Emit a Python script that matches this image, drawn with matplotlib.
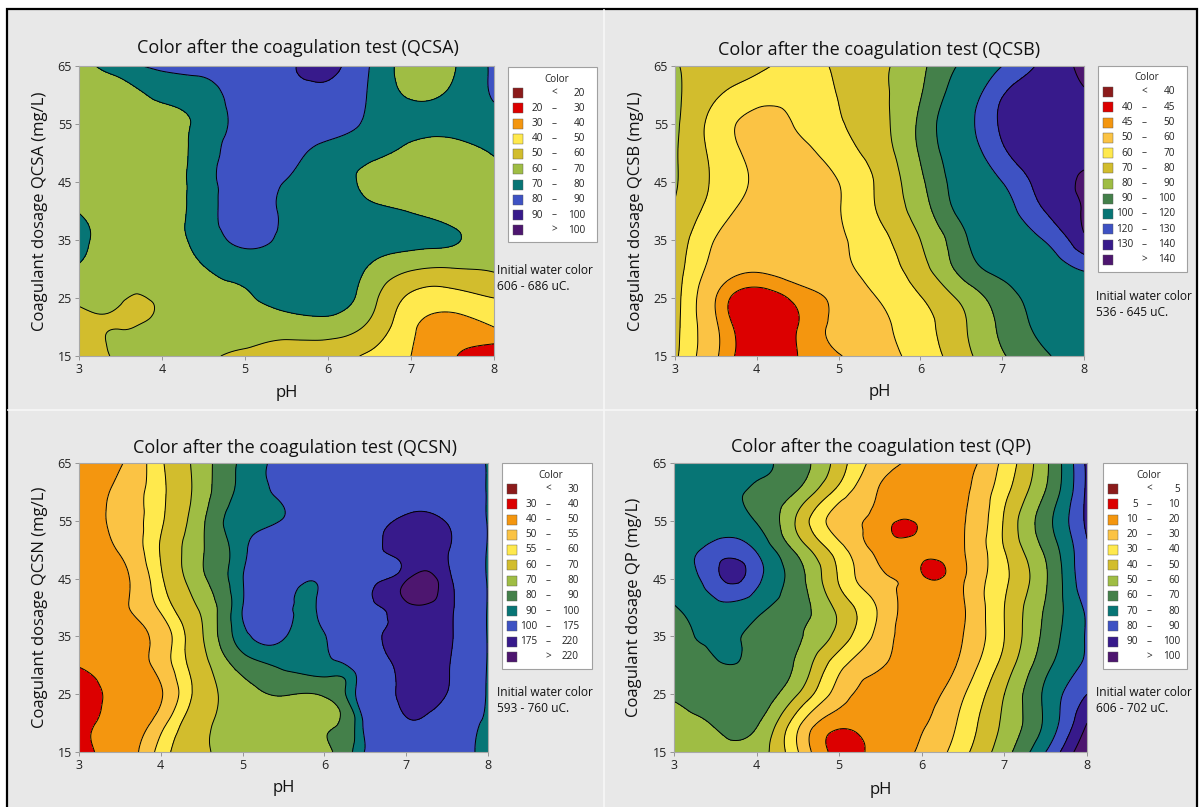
import numpy as np
import matplotlib
matplotlib.use('Agg')
import matplotlib.pyplot as plt
from matplotlib.tri import Triangulation, UniformTriRefiner
from matplotlib.patches import Rectangle

plt.rcParams['font.family'] = ['Open Sans', 'DejaVu Sans']

# grid of the response surfaces
ph_values = [3.0, 3.5, 4.0, 4.5, 5.0, 5.5, 6.0, 6.5, 7.0, 7.5, 8.0]
dose_values = [15, 20, 25, 30, 35, 40, 45, 50, 55, 60, 65]

# rows = dosage 15..65, columns = pH 3..8
qcsa_grid = [
    [55, 61, 64, 62, 58, 57, 55, 48, 40, 31, 21],
    [56, 59.5, 65, 66, 65, 64, 65, 58, 42, 35, 40],
    [62.5, 61.5, 63, 67, 69, 74, 76, 64, 48, 46, 50],
    [69, 63, 65, 69.5, 74, 76, 76, 69, 61, 59.5, 61],
    [73, 64, 66, 74, 82, 78, 76, 75, 73, 71, 64],
    [69.5, 64, 66, 75, 85, 78, 76, 73, 69.5, 66, 64],
    [64, 63, 66, 75, 86, 79.5, 76, 67, 64, 63, 62],
    [63, 63, 65.5, 74.5, 86, 84, 77, 73, 67, 65, 71],
    [63, 64, 66.5, 73, 84, 87, 85, 78, 73, 74, 76],
    [63, 65, 72, 75, 86, 88, 88.5, 79, 69, 72, 81],
    [66, 76, 82, 85, 88, 89, 92, 80, 66, 69, 82],
]
qcsa_extra_ph = [3.65, 3.8]
qcsa_extra_dose = [23, 24.2]
qcsa_extra_value = [57, 58.5]

qcsb_grid = [
    [72, 51, 42, 45, 49.5, 56, 64, 76, 89, 98, 110],
    [73, 51, 41.5, 45, 52, 58, 66, 78, 92, 103, 112],
    [74, 50, 42, 46.5, 52, 60.5, 69.5, 82, 95, 106, 116],
    [75, 56, 51, 54, 57, 65, 76, 93, 104, 112, 121],
    [77, 59.5, 54, 55, 58.5, 67, 80, 97, 112, 120, 138],
    [79, 65, 56, 55, 59.5, 71, 85, 103, 115, 129.5, 140.5],
    [81, 68, 58.5, 55, 60, 72, 88, 106, 120, 134, 141],
    [81, 67, 57, 56.5, 65, 75, 91, 110, 128, 137, 138],
    [82, 66, 57, 61, 69, 77, 92, 113, 131.5, 138, 137],
    [82, 71, 64, 62, 70.5, 78, 89.5, 109, 129.5, 136, 139],
    [81, 75, 73, 66, 72, 78, 88, 102, 120, 132, 143],
]
qcsb_extra_ph = []
qcsb_extra_dose = []
qcsb_extra_value = []

qcsn_grid = [
    [37, 45, 57, 68, 74, 76, 78, 101, 130, 120, 92],
    [37, 44, 53, 67, 74, 76, 78.5, 104, 170, 140, 93],
    [34, 43, 49.5, 64, 76, 80.5, 81, 115, 190, 174, 95],
    [40.5, 46, 52, 66, 84, 92, 96, 120, 198, 180, 97],
    [44, 48, 52, 69, 96, 101, 99, 150, 200, 185, 97],
    [45, 49, 56, 72, 100, 110, 115, 165, 206, 188, 97],
    [44, 48.5, 59, 78, 99.5, 115, 110, 168, 212, 190, 97],
    [44, 50.5, 60.5, 79, 97, 120, 140, 160, 198, 180, 97],
    [44, 52, 59, 78, 96, 101, 130, 150, 185, 172, 97],
    [44, 51.5, 58.5, 75, 93, 104, 125, 140, 150, 145, 97],
    [44, 49.5, 59, 75, 92, 106, 125, 135, 140, 135, 97],
]
qcsn_extra_ph = [7.05, 5.85, 5.85, 5.85]
qcsn_extra_dose = [44.5, 36, 39.5, 43]
qcsn_extra_value = [234, 95, 95, 96]

qp_grid = [
    [55, 56.5, 55, 30.5, 7, 14, 21.5, 37, 56, 80, 110],
    [57, 61, 61, 33, 13, 16, 19, 33, 52, 72, 100],
    [61, 65, 66, 50, 25, 15, 15, 29, 50, 72, 90],
    [65, 68, 67, 58, 33, 21, 13, 23, 44, 67, 82],
    [67, 72, 67, 61, 46, 26, 13, 20, 40, 63, 81],
    [69.5, 77, 73, 64, 47, 28, 12, 19, 40, 61, 82],
    [73, 87, 83, 64, 39, 22, 12, 19, 38, 59, 89],
    [74, 84, 79, 57, 34, 17, 13, 19.5, 40, 62, 89],
    [73, 74, 69.5, 48, 25, 15, 13, 19.5, 41, 66, 92],
    [73, 73, 69, 59, 36, 19, 14, 18, 37, 60.5, 92],
    [74, 74, 71, 65, 45, 25, 17, 16, 33, 58, 92],
]
qp_extra_ph = [3.7, 5.82, 6.1, 3.62, 4.97]
qp_extra_dose = [45.5, 54, 46.5, 31, 18]
qp_extra_value = [93, 8, 7.5, 71, 8]

qcsa_levels = [20, 30, 40, 50, 60, 70, 80, 90, 100]
qcsb_levels = [40, 45, 50, 60, 70, 80, 90, 100, 120, 130, 140]
qcsn_levels = [30, 40, 50, 55, 60, 70, 80, 90, 100, 175, 220]
qp_levels = [5, 10, 20, 30, 40, 50, 60, 70, 80, 90, 100]

palette = {
    'darkred': '#8b1b1b', 'red': '#dc0000', 'orange': '#f4960f',
    'lorange': '#fbc344', 'yellow': '#ffe94d', 'olive': '#d2bd2d',
    'ygreen': '#9fbd44', 'dgreen': '#44804a', 'teal': '#077575',
    'blue': '#3e52c3', 'indigo': '#371a8b', 'purple': '#4d166f',
}
short_names = ['darkred', 'red', 'orange', 'yellow', 'olive', 'ygreen',
               'teal', 'blue', 'indigo', 'purple']
full_names = ['darkred', 'red', 'orange', 'lorange', 'yellow', 'olive',
              'ygreen', 'dgreen', 'teal', 'blue', 'indigo', 'purple']

titles = ['Color after the coagulation test (QCSA)',
          'Color after the coagulation test (QCSB)',
          'Color after the coagulation test (QCSN)',
          'Color after the coagulation test (QP)']
ylabels = ['Coagulant dosage QCSA (mg/L)', 'Coagulant dosage QCSB (mg/L)',
           'Coagulant dosage QCSN (mg/L)', 'Coagulant dosage QP (mg/L)']
initial_colors = ['606 - 686 uC.', '536 - 645 uC.', '593 - 760 uC.', '606 - 702 uC.']

W, H = 1200, 807


def make_field(grid, ex_ph, ex_dose, ex_val):
    gx, gy = np.meshgrid(ph_values, dose_values)
    x = np.concatenate([gx.ravel(), np.array(ex_ph, float)])
    y = np.concatenate([gy.ravel(), np.array(ex_dose, float)]) / 10.0
    z = np.concatenate([np.array(grid, float).ravel(), np.array(ex_val, float)])
    tri = Triangulation(x, y)
    fine, zf = UniformTriRefiner(tri).refine_field(z, subdiv=4)
    return Triangulation(fine.x, fine.y * 10.0, fine.triangles), zf


def px_axes(fig, l, t, r, b, **kw):
    return fig.add_axes([l / W, 1 - b / H, (r - l) / W, (b - t) / H], **kw)


fig = plt.figure(figsize=(12, 8.07), dpi=100)
fig.patch.set_facecolor('white')

bg = px_axes(fig, 0, 0, W, H, zorder=-10)
bg.set_xlim(0, W)
bg.set_ylim(H, 0)
bg.axis('off')
bg.add_patch(Rectangle((7, 9), 1190, 810, facecolor='#e8e8e8',
                       edgecolor='black', linewidth=1.6))
bg.plot([604, 604], [10, H], color='#f7f7f7', lw=1.2)
bg.plot([8, 1196], [410, 410], color='#f7f7f7', lw=1.2)

panels = [
    dict(grid=qcsa_grid, ex=(qcsa_extra_ph, qcsa_extra_dose, qcsa_extra_value),
         levels=qcsa_levels, colors=short_names,
         box=(79, 66, 494, 356), title_xy=(298, 48), ylab_x=40, xlab_y=393,
         leg=(508, 67, 597), init_xy=(497, 271)),
    dict(grid=qcsb_grid, ex=(qcsb_extra_ph, qcsb_extra_dose, qcsb_extra_value),
         levels=qcsb_levels, colors=full_names,
         box=(675, 66, 1084, 356), title_xy=(879, 50), ylab_x=636, xlab_y=392,
         leg=(1098, 66, 1187), init_xy=(1096, 297)),
    dict(grid=qcsn_grid, ex=(qcsn_extra_ph, qcsn_extra_dose, qcsn_extra_value),
         levels=qcsn_levels, colors=full_names,
         box=(79, 463, 488, 752), title_xy=(295, 448), ylab_x=40, xlab_y=788,
         leg=(502, 463, 592), init_xy=(497, 692)),
    dict(grid=qp_grid, ex=(qp_extra_ph, qp_extra_dose, qp_extra_value),
         levels=qp_levels, colors=full_names,
         box=(674, 463, 1087, 752), title_xy=(881, 447), ylab_x=634, xlab_y=790,
         leg=(1103, 463, 1187), init_xy=(1096, 693)),
]

ov = px_axes(fig, 0, 0, W, H, zorder=10)
ov.set_xlim(0, W)
ov.set_ylim(H, 0)
ov.axis('off')
ov.patch.set_alpha(0)

for i, p in enumerate(panels):
    l, t, r, b = p['box']
    ax = px_axes(fig, l, t, r, b)
    tri, zf = make_field(p['grid'], *p['ex'])
    lv = p['levels']
    cols = [palette[c] for c in p['colors']]
    ax.tricontourf(tri, zf, levels=[-1e4] + lv + [1e4], colors=cols)
    ax.tricontour(tri, zf, levels=lv, colors='black', linewidths=0.7)
    ax.set_xlim(3, 8)
    ax.set_ylim(15, 65)
    ax.set_xticks([3, 4, 5, 6, 7, 8])
    ax.set_yticks([15, 25, 35, 45, 55, 65])
    ax.tick_params(labelsize=9, length=3, width=0.6, color='#888888',
                   labelcolor='#222222', pad=2)
    for s in ax.spines.values():
        s.set_color('#a8a8a8')
        s.set_linewidth(0.8)

    ov.text(p['title_xy'][0], p['title_xy'][1], titles[i], fontsize=13,
            ha='center', va='center', color='#111111')
    ov.text(p['ylab_x'], (t + b) / 2, ylabels[i], fontsize=12, rotation=90,
            ha='center', va='center', color='#111111')
    ov.text((l + r) / 2, p['xlab_y'], 'pH', fontsize=12,
            ha='center', va='center', color='#111111')

    # legend box
    gl, gt, gr = p['leg']
    n = len(cols)
    gb = gt + 26 + (n - 1) * 15.25 + 12
    ov.add_patch(Rectangle((gl, gt), gr - gl, gb - gt, facecolor='white',
                           edgecolor='#a0a0a0', linewidth=0.8))
    ov.text((gl + gr) / 2 + 4, gt + 12, 'Color', fontsize=7.2,
            ha='center', va='center', color='#222222')
    for k in range(n):
        yy = gt + 26 + k * 15.25
        ov.add_patch(Rectangle((gl + 5, yy - 5), 10, 10, facecolor=cols[k],
                               edgecolor='#555555', linewidth=0.3))
        if k == 0:
            mid, left, right = '<', '', str(lv[0])
        elif k == n - 1:
            mid, left, right = '>', '', str(lv[-1])
        else:
            mid, left, right = '–', str(lv[k - 1]), str(lv[k])
        ov.text(gl + 35, yy, left, fontsize=7.2, ha='right', va='center', color='#222222')
        ov.text(gl + 46, yy, mid, fontsize=7.2, ha='center', va='center', color='#222222')
        ov.text(gl + 77, yy, right, fontsize=7.2, ha='right', va='center', color='#222222')

    ix, iy = p['init_xy']
    ov.text(ix, iy, 'Initial water color', fontsize=8.6, ha='left', va='center',
            color='#111111')
    ov.text(ix, iy + 16, initial_colors[i], fontsize=8.6, ha='left', va='center',
            color='#111111')

fig.savefig('out.png', dpi=100, facecolor=fig.get_facecolor())
